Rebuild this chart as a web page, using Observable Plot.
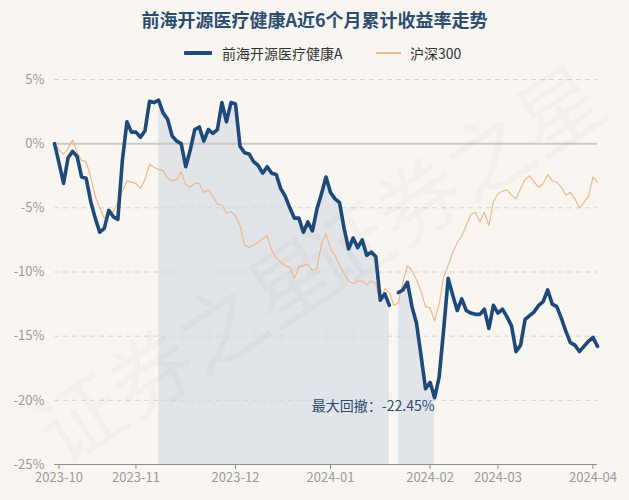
<!DOCTYPE html>
<html>
<head>
<meta charset="utf-8">
<script src="https://cdn.jsdelivr.net/npm/d3@7"></script>
<script src="https://cdn.jsdelivr.net/npm/@observablehq/plot@0.6"></script>
<style>
  html, body { margin: 0; padding: 0; background: #f9f6f2; }
  body { width: 629px; height: 500px; position: relative; overflow: hidden;
         font-family: "Noto Sans CJK SC", "Noto Sans", sans-serif; }
  #hdr { position: relative; width: 629px; height: 68px; }
  #title { position: absolute; top: 6px; left: 0; width: 629px; text-align: center;
           font-size: 18px; font-weight: bold; color: #2c4c70; line-height: 26px; }
  #legend { position: absolute; top: 44px; left: 0; width: 629px; height: 18px; font-size: 14px; color: #333; }
  .li { position: absolute; top: 0; line-height: 18px; white-space: nowrap; }
  .sw { position: absolute; }
  #wm { position: absolute; left: 0; top: 0; pointer-events: none; }
</style>
</head>
<body>
<div id="hdr">
  <div id="title">前海开源医疗健康A近6个月累计收益率走势</div>
  <div id="legend">
    <div class="sw" style="left:184px;top:7px;width:28px;height:4px;background:#1d4a7a;border-radius:1px"></div>
    <div class="li" style="left:222px">前海开源医疗健康A</div>
    <div class="sw" style="left:376px;top:8px;width:25px;height:1.5px;background:#f0b98a"></div>
    <div class="li" style="left:410px">沪深300</div>
  </div>
</div>
<div id="chart"></div>
<svg id="wm" width="629" height="500" xmlns="http://www.w3.org/2000/svg">
  <g fill="rgba(90,90,90,0.04)" font-size="84" font-family="Noto Sans CJK SC, sans-serif">
    <text x="62" y="468" transform="rotate(-33 62 468)">证券之星</text>
    <text x="330" y="296" transform="rotate(-33 330 296)">证券之星</text>
  </g>
</svg>
<script>
// x positions are trading-day indices (2023-09-28 .. 2024-04-02)
const tickIdx = [1, 18, 40, 61, 83, 98, 119];
const tickLabels = ["2023-10", "2023-11", "2023-12", "2024-01", "2024-02", "2024-03", "2024-04"];
const yTicks = [5, 0, -5, -10, -15, -20, -25];
const gridVals = [5, -5, -10, -15, -20];

const fundName = "前海开源医疗健康A";
const indexName = "沪深300";

// cumulative return (%) of the fund; null = missing day
const fund = [
  0, -1.5, -3.1, -1.1, -0.6, -1.0, -2.6, -2.7, -4.5, -5.8,
  -6.9, -6.6, -5.2, -5.7, -5.9, -1.3, 1.7, 0.9, 0.9, 0.5,
  1.0, 3.3, 3.2, 3.4, 2.4, 1.9, 0.6, 0.2, 0.0, -1.8,
  -0.5, 1.1, 1.3, 0.2, 1.1, 0.8, 1.1, 3.2, 1.7, 3.2,
  3.1, -0.2, -0.7, -0.8, -1.4, -1.7, -2.3, -1.8, -2.3, -2.4,
  -3.5, -4.1, -5.0, -5.8, -5.8, -6.9, -6.1, -6.8, -5.1, -3.9,
  -2.6, -3.8, -4.3, -4.6, -6.6, -8.2, -7.35, -8.1, -7.5, -8.7,
  -8.45, -8.8, -12.2, -11.7, -12.6, null, -11.6, -11.4, -10.8, -12.7,
  -14.0, -16.5, -19.1, -18.6, -19.8, -18.2, -14.5, -10.5, -11.8, -13.0,
  -12.1, -13.0, -13.2, -13.3, -13.3, -12.9, -14.4, -12.6, -13.2, -12.9,
  -13.5, -14.2, -16.2, -15.7, -13.7, -13.4, -13.1, -12.6, -12.3, -11.4,
  -12.5, -12.7, -13.6, -14.6, -15.5, -15.7, -16.2, -15.8, -15.4, -15.1,
  -15.8
];

// cumulative return (%) of CSI 300
const hs300 = [
  0, -0.5, -0.8, -0.4, 0.3, -0.7, -1.3, -1.4, -2.6, -4.1,
  -5.0, -5.8, -5.6, -5.3, -4.6, -3.7, -2.9, -3.0, -3.1, -3.5,
  -2.8, -1.6, -1.85, -2.0, -2.1, -2.7, -2.9, -2.8, -2.2, -3.2,
  -3.4, -3.1, -3.1, -3.8, -3.6, -4.1, -4.7, -4.8, -5.4, -5.3,
  -5.6, -6.4, -7.9, -8.1, -7.9, -7.7, -7.4, -7.2, -8.3, -8.9,
  -9.25, -9.5, -9.6, -10.5, -9.6, -9.5, -9.4, -9.9, -9.7, -7.8,
  -7.0, -8.2, -8.7, -9.5, -10.1, -10.7, -10.9, -10.7, -10.7, -11.0,
  -10.7, -10.9, -12.3, -11.3, -11.6, -12.6, -12.4, -10.8, -9.5, -9.9,
  -10.6, -11.5, -12.7, -12.8, -13.8, -12.5, -10.4, -9.5, -8.5, -7.7,
  -7.2, -6.4, -5.5, -5.35, -6.1, -5.35, -6.4, -4.5, -3.9, -3.7,
  -3.6, -4.0, -4.3, -3.5, -2.8, -2.5, -3.0, -3.4, -3.1, -2.4,
  -2.9, -3.0, -3.4, -4.0, -3.8, -4.3, -5.0, -4.6, -4.1, -2.6,
  -3.0
];

// drawdown shading segments (index ranges) and label
const ddSegments = [[23, 74], [76, 84]];
const ddLabel = "最大回撤：-22.45%";
const ddAt = { i: 84, v: -20 };

const fundData = fund.map((v, i) => ({ i, v }));
const idxData = hs300.map((v, i) => ({ i, v }));
const areaData = [];
ddSegments.forEach(([a, b], s) => {
  for (let i = a; i <= b; i++) if (fund[i] != null) areaData.push({ i, v: fund[i], seg: s });
});
const lbl = new Map(tickIdx.map((d, k) => [d, tickLabels[k]]));

const chart = Plot.plot({
  width: 629,
  height: 432,
  marginTop: 11,
  marginBottom: 36,
  marginLeft: 54,
  marginRight: 32,
  x: { domain: [0, 120], axis: null },
  y: { domain: [-25, 5], axis: null },
  style: { background: "transparent", color: "#999", fontSize: "13px",
           fontFamily: "'Noto Sans CJK SC', 'Noto Sans', sans-serif", overflow: "visible" },
  marks: [
    Plot.areaY(areaData, { x: "i", y1: -25, y2: "v", z: "seg", fill: "#c3cfdb", fillOpacity: 0.45 }),
    Plot.ruleY(gridVals, { stroke: "#d6d6d6", strokeDasharray: "5,4" }),
    Plot.ruleY([0], { stroke: "#c9c9c9", strokeWidth: 2 }),
    Plot.ruleY([-25], { stroke: "#8c8c8c" }),
    Plot.axisY(yTicks, { label: null, tickSize: 0, tickPadding: 10, tickFormat: d => d + "%", fontSize: 13 }),
    Plot.axisX(tickIdx, { label: null, tickSize: 5, tickPadding: 3, tickFormat: d => lbl.get(d), fontSize: 13, stroke: "#8c8c8c" }),
    Plot.lineY(idxData, { x: "i", y: "v", stroke: "#f0b98a", strokeWidth: 1.2 }),
    Plot.lineY(fundData, { x: "i", y: "v", stroke: "#1d4a7a", strokeWidth: 3.6 }),
    Plot.text([ddAt], { x: "i", y: "v", text: () => ddLabel, textAnchor: "end", dx: 0, dy: 6,
                        fill: "#2c4c70", fontSize: 14 })
  ]
});
document.getElementById("chart").appendChild(chart);
</script>
</body>
</html>
